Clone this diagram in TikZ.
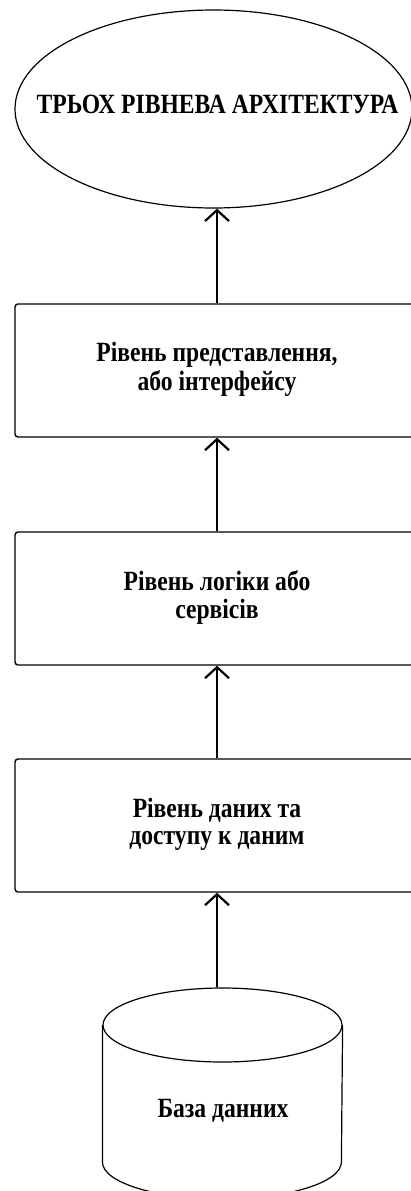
\documentclass[tikz,border=0pt]{standalone}
\usepackage{fontspec}
\usepackage{graphicx}
\setmainfont{Liberation Serif}
\usetikzlibrary{arrows.meta,shapes.geometric}

% text set slightly taller than wide
\newcommand{\tall}[1]{\scalebox{1}[1.18]{\begin{tabular}{@{}c@{}}#1\end{tabular}}}

\begin{document}
\begin{tikzpicture}[x=1pt,y=-1pt,
  layerbox/.style={draw, line width=1.4pt, rounded corners=3pt,
    minimum width=404pt, minimum height=133pt, inner sep=0pt,
    font=\bfseries\fontsize{23.6}{23.5}\selectfont},
  lbl/.style={inner sep=0pt, font=\bfseries\fontsize{23.6}{23.5}\selectfont},
  link/.style={line width=2.2pt,
    -{Straight Barb[length=11pt,width=24pt,line width=2.2pt]}},
]
\useasboundingbox (0,0) rectangle (411,1191);

% top: the architecture title
\node[ellipse, draw, line width=1.2pt, minimum width=397pt, minimum height=198pt,
  inner sep=0pt] (arch) at (213.5,109) {};
\node[lbl] (archtxt) at (217.5,108) {\tall{ТРЬОХ РІВНЕВА АРХІТЕКТУРА}};

% the three layers
\node[layerbox] (pres) at (217,370.5) {\tall{Рівень представлення,\\ або інтерфейсу}};
\node[layerbox] (logic) at (217,598.5) {\tall{Рівень логіки або\\ сервісів}};
\node[layerbox] (data) at (217,825.5) {\tall{Рівень даних та\\ доступу к даним}};

% database cylinder
\node[ellipse, draw, line width=1.2pt, minimum width=239pt, minimum height=74pt,
  inner sep=0pt] (db) at (222.5,1025) {};
\draw[line width=1.2pt] (db.west) -- ++(0,137)
  arc[start angle=180, end angle=0, x radius=119.5, y radius=37] -- (db.east);
\node[lbl] (dbtxt) at (223,1112) {\tall{База данних}};

% connectors
\draw[link] (db.north -| data.south) -- (data.south);
\draw[link] (data.north) -- (logic.south);
\draw[link] (logic.north) -- (pres.south);
\draw[link] (pres.north) -- (arch.south -| pres.north);
\end{tikzpicture}
\end{document}
